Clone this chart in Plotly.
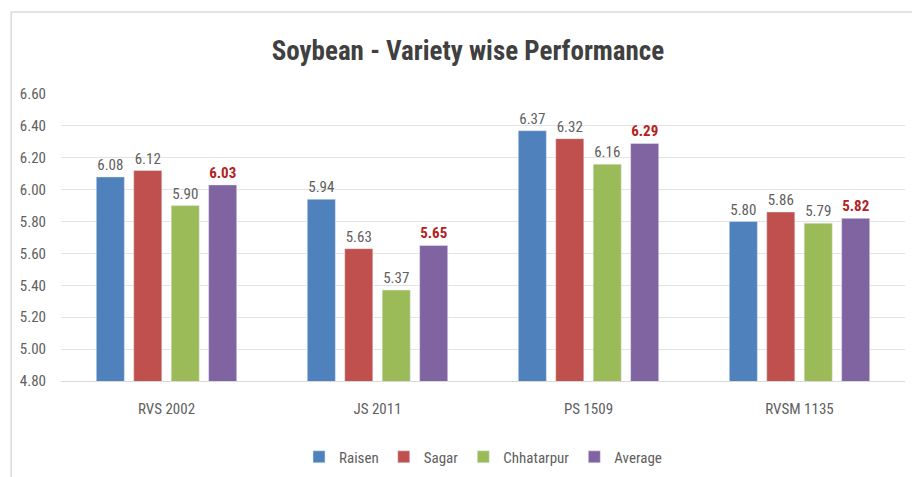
import plotly.graph_objects as go

varieties = ["RVS 2002", "JS 2011", "PS 1509", "RVSM 1135"]
raisen = [6.08, 5.94, 6.37, 5.80]
sagar = [6.12, 5.63, 6.32, 5.86]
chhatarpur = [5.90, 5.37, 6.16, 5.79]
average = [6.03, 5.65, 6.29, 5.82]

FONT = "Liberation Sans Narrow, Arial Narrow, Roboto Condensed, Liberation Sans, sans-serif"
GREY = "#606060"

series = [
    ("Raisen", raisen, "#4F81BD"),
    ("Sagar", sagar, "#C0504D"),
    ("Chhatarpur", chhatarpur, "#9BBB59"),
    ("Average", average, "#8064A2"),
]

fig = go.Figure()
for name, vals, col in series:
    is_avg = name == "Average"
    fig.add_trace(go.Bar(
        x=varieties, y=vals, name=name, marker_color=col,
        text=[f"<b>{v:.2f}</b>" if is_avg else f"{v:.2f}" for v in vals],
        textposition="outside", cliponaxis=False,
        textfont=dict(family=FONT, size=15,
                      color="#B22222" if is_avg else GREY),
    ))

# the page body adds an 8px margin, so margins are shifted to compensate
fig.update_layout(
    width=920, height=477,
    margin=dict(l=50, r=23, t=86, b=104),
    paper_bgcolor="white", plot_bgcolor="white",
    barmode="group", bargap=0.29, bargroupgap=0.25,
    title=dict(text="<b>Soybean - Variety wise Performance</b>", x=0.5, xanchor="center",
               y=0.91, yanchor="middle",
               font=dict(family=FONT, size=27, color="#404040")),
    font=dict(family=FONT, color=GREY, size=14),
    legend=dict(orientation="h", x=0.5, xanchor="center", y=-0.265, yanchor="middle",
                font=dict(family=FONT, size=15, color=GREY), itemwidth=30),
    showlegend=True,
)
fig.update_yaxes(range=[4.8, 6.6], dtick=0.2, tickformat=".2f",
                 gridcolor="#E3E3E3", zeroline=False, showline=False,
                 tickfont=dict(family=FONT, size=15, color=GREY), ticklabelstandoff=14)
fig.update_xaxes(showline=True, linecolor="#D9D9D9", ticks="",
                 tickfont=dict(family=FONT, size=15, color=GREY), ticklabelstandoff=14)

# faint frame (top and left edges only are visible in the source picture)
fig.add_shape(type="rect", xref="paper", yref="paper",
              x0=(8 - 58) / 847, x1=1.5,
              y0=-1.0, y1=(381 - 12) / 287,
              line=dict(color="#DADADA", width=1.5), fillcolor="rgba(0,0,0,0)", layer="below")

fig.write_html("out.html")
